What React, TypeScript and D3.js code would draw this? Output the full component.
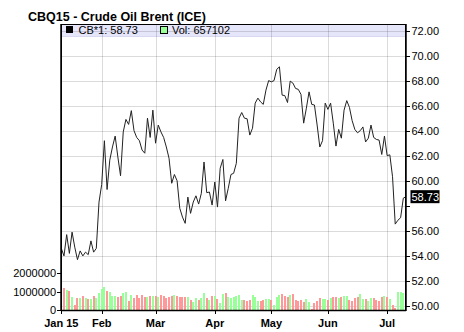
import React from "react";
import * as d3 from "d3";

// ---- data ----
const TITLE = "CBQ15 - Crude Oil Brent (ICE)";
const CLOSE_JAN = [54.6, 54.0, 55.7, 54.2, 55.9, 54.7, 53.7, 54.4, 54.0, 54.3, 54.1, 55.2, 54.3, 54.6, 58.3];
const CLOSE_FEB = [59.7, 63.2, 59.3, 61.65, 62.7, 63.57, 61.9, 60.4, 63.9, 64.9, 64.5, 65.6, 64.0, 63.46, 63.2, 62.45, 62.2, 65.0, 63.46, 65.64];
const CLOSE_MAR = [63.0, 64.45, 63.9, 63.46, 62.7, 61.8, 59.8, 60.5, 60.0, 57.8, 57.1, 56.6, 58.7, 57.4, 58.3, 58.8, 58.14, 59.0, 61.5, 59.05, 59.1, 58.06];
const CLOSE_APR = [59.9, 57.9, 61.0, 61.7, 58.4, 59.4, 60.5, 60.6, 61.4, 65.0, 65.45, 65.0, 64.95, 63.65, 64.2, 66.2, 66.6, 66.3, 66.1, 67.24, 68.0];
const CLOSE_MAY = [67.9, 68.0, 68.9, 69.1, 66.84, 66.8, 66.25, 67.96, 67.8, 67.37, 67.3, 66.9, 64.6, 65.8, 67.1, 66.1, 66.05, 64.45, 62.7, 63.2, 66.2];
const CLOSE_JUN = [65.7, 66.2, 64.6, 62.77, 64.1, 63.4, 65.64, 66.4, 65.86, 64.8, 64.1, 63.83, 64.0, 64.3, 63.1, 63.4, 64.45, 63.46, 63.3, 63.25, 62.1, 63.57];
const CLOSE_JUL = [62.01, 62.07, 60.32, 56.54, 56.85, 57.05, 58.61, 58.73];

const VOL_JAN = [1200000, 1170000, 1080000, 1030000, 720000, 270000, 630000, 630000, 760000, 630000, 580000, 580000, 760000, 630000, 940000];
const VOL_FEB = [1120000, 1230000, 1030000, 990000, 760000, 760000, 720000, 760000, 940000, 990000, 490000, 810000, 630000, 810000, 630000, 810000, 720000, 720000, 760000, 740000];
const VOL_MAR = [780000, 720000, 800000, 780000, 660000, 700000, 760000, 800000, 780000, 700000, 700000, 720000, 700000, 560000, 430000, 650000, 560000, 650000, 920000, 650000, 560000, 740000];
const VOL_APR = [740000, 600000, 380000, 860000, 920000, 680000, 650000, 720000, 760000, 810000, 540000, 540000, 490000, 540000, 810000, 720000, 490000, 490000, 540000, 580000, 580000];
const VOL_MAY = [540000, 270000, 680000, 810000, 860000, 760000, 680000, 810000, 860000, 540000, 490000, 540000, 430000, 580000, 450000, 50000, 400000, 490000, 650000, 590000, 610000];
const VOL_JUN = [540000, 650000, 720000, 680000, 630000, 680000, 760000, 760000, 540000, 490000, 630000, 680000, 860000, 590000, 590000, 490000, 630000, 630000, 540000, 490000, 680000, 760000];
const VOL_JUL = [720000, 580000, 270000, 120000, 970000, 970000, 940000, 657102];

const CLOSE = [...CLOSE_JAN, ...CLOSE_FEB, ...CLOSE_MAR, ...CLOSE_APR, ...CLOSE_MAY, ...CLOSE_JUN, ...CLOSE_JUL];
const VOLUME = [...VOL_JAN, ...VOL_FEB, ...VOL_MAR, ...VOL_APR, ...VOL_MAY, ...VOL_JUN, ...VOL_JUL];

const PRICE_TICKS = [50, 52, 54, 56, 58, 60, 62, 64, 66, 68, 70, 72];
const VOL_TICKS = [0, 1000000, 2000000];

// trading days Jan 12 – Jul 10 2015 (weekdays, ICE closed Good Friday)
const HOLIDAYS = ["2015-04-03"];
const fmtKey = d3.timeFormat("%Y-%m-%d");
const DATES = d3
  .timeDay.range(new Date(2015, 0, 12), new Date(2015, 6, 11))
  .filter((d) => d.getDay() !== 0 && d.getDay() !== 6 && !HOLIDAYS.includes(fmtKey(d)));

const W = 464, H = 332;
const L = 61, R = 406, T = 24, B = 310;

export default function App() {
  const n = CLOSE.length;
  const x = d3.scaleLinear().domain([0, n - 1]).range([61.3, 406]);
  const y = d3.scaleLinear().domain([50, 72]).range([306, 30.5]);
  const yv = d3.scaleLinear().domain([0, 1000000]).range([B, 291.5]);

  const monthIdx: number[] = [];
  DATES.forEach((d, i) => {
    if (i === 0 || d.getMonth() !== DATES[i - 1].getMonth()) monthIdx.push(i);
  });
  const monthLabel = (i: number) =>
    i === 0 ? d3.timeFormat("%b %y")(DATES[i]) : d3.timeFormat("%b")(DATES[i]);

  const line = d3
    .line<number>()
    .x((_, i) => x(i))
    .y((v) => y(v));

  const last = CLOSE[n - 1];
  const lastVol = VOLUME[n - 1];
  const font = "'Liberation Sans', Arial, sans-serif";

  return (
    <svg width={W} height={H} style={{ position: "absolute", left: 0, top: 0, background: "#fff" }} fontFamily={font}>
      <defs>
        <clipPath id="plot">
          <rect x={L} y={T} width={R - L} height={B - T} />
        </clipPath>
      </defs>
      <rect x={0} y={0} width={W} height={H} fill="#fff" />
      <text x={28} y={21} fontSize={12.5} fontWeight="bold" fill="#000">{TITLE}</text>

      {/* legend band */}
      <rect x={L} y={T} width={R - L} height={12} fill="#e6e6fb" />
      <line x1={L} x2={R} y1={36.5} y2={36.5} stroke="#d8d8f0" />

      {/* grid */}
      <g stroke="#000" strokeOpacity={0.14} shapeRendering="crispEdges">
        {PRICE_TICKS.map((t) => (
          <line key={t} x1={L} x2={R} y1={Math.round(y(t)) + 0.5} y2={Math.round(y(t)) + 0.5} />
        ))}
        {monthIdx.filter((i) => i > 0).map((i) => (
          <line key={i} x1={Math.round(x(i)) + 0.5} x2={Math.round(x(i)) + 0.5} y1={T} y2={B} />
        ))}
      </g>

      {/* volume bars */}
      <g clipPath="url(#plot)" shapeRendering="crispEdges">
        {VOLUME.map((v, i) => {
          const up = i > 0 && CLOSE[i] >= CLOSE[i - 1];
          return (
            <rect
              key={i}
              x={Math.round(x(i) - 1)}
              y={yv(v)}
              width={2}
              height={B - yv(v)}
              fill={up ? "#99ff99" : "#ff9999"}
            />
          );
        })}
      </g>

      {/* price line */}
      <path d={line(CLOSE) || ""} fill="none" stroke="#222" strokeWidth={1} clipPath="url(#plot)" />

      {/* legend */}
      <rect x={66} y={26} width={7} height={7} fill="#000" />
      <text x={78.5} y={34} fontSize={11} fill="#000">{`CB*1: ${last.toFixed(2)}`}</text>
      <rect x={160.5} y={26.5} width={7} height={7} fill="#99ff99" stroke="#000" strokeWidth={1} />
      <text x={172} y={34} fontSize={11} fill="#000">{`Vol: ${lastVol}`}</text>

      {/* frame */}
      <rect x={L + 0.5} y={T + 0.5} width={R - L - 1} height={B - T} fill="none" stroke="#000" strokeWidth={1} shapeRendering="crispEdges" />
      <line x1={L} x2={L} y1={T} y2={B + 1} stroke="#000" strokeWidth={1.5} />
      <line x1={R} x2={R} y1={T} y2={B + 1} stroke="#000" strokeWidth={1.5} />
      <line x1={L} x2={R} y1={B + 0.5} y2={B + 0.5} stroke="#000" strokeWidth={1.5} />

      {/* right price axis */}
      <g fontSize={11} fill="#000">
        {PRICE_TICKS.map((t) => (
          <g key={t}>
            <line x1={R} x2={R + 4} y1={Math.round(y(t)) + 0.5} y2={Math.round(y(t)) + 0.5} stroke="#000" />
            {Math.abs(y(t) - y(last)) > 10 && (
              <text x={411.5} y={y(t) + 4} >{t.toFixed(2)}</text>
            )}
          </g>
        ))}
        <rect x={410.5} y={y(last) - 6.5} width={29} height={13} fill="#000" />
        <text x={411.5} y={y(last) + 4} fill="#fff">{last.toFixed(2)}</text>
      </g>

      {/* left volume axis */}
      <g fontSize={11} fill="#000">
        {VOL_TICKS.map((t) => (
          <g key={t}>
            <line x1={L - 4} x2={L} y1={Math.round(yv(t)) + 0.5} y2={Math.round(yv(t)) + 0.5} stroke="#000" />
            <text x={56} y={yv(t) + 4} textAnchor="end">{String(t)}</text>
          </g>
        ))}
      </g>

      {/* bottom month axis */}
      <g fontSize={11} fontWeight="bold" fill="#000">
        {monthIdx.map((i) => (
          <g key={i}>
            <line x1={Math.round(x(i)) + 0.5} x2={Math.round(x(i)) + 0.5} y1={B} y2={B + 4} stroke="#000" />
            <text x={x(i)} y={327} textAnchor="middle">{monthLabel(i)}</text>
          </g>
        ))}
      </g>
    </svg>
  );
}
